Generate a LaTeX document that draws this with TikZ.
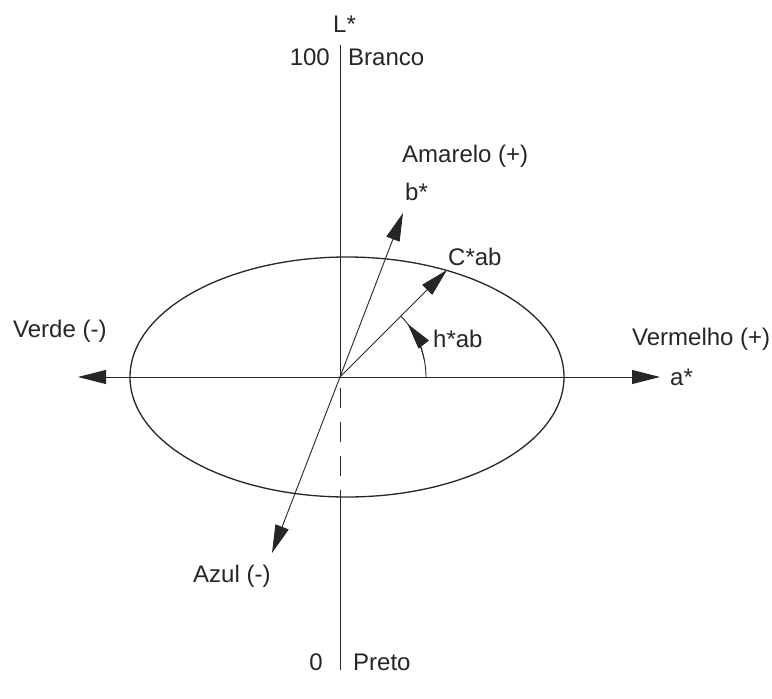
\documentclass[tikz,border=0pt]{standalone}
\usepackage{fontspec}
\setmainfont{Liberation Sans}
\usetikzlibrary{arrows.meta}
\tikzset{
  axisline/.style={line width=0.9pt, black!85},
  tri/.style={-{Triangle[length=28pt,width=14pt]}},
  lbl/.style={anchor=base west, inner sep=0pt, font=\fontsize{24}{28}\selectfont, text=black!85},
  lblr/.style={anchor=base east, inner sep=0pt, font=\fontsize{24}{28}\selectfont, text=black!85},
}
\begin{document}
\begin{tikzpicture}[x=1pt,y=-1pt]
\useasboundingbox (0,0) rectangle (772,699);
\fill[white] (0,0) rectangle (772,699);
% coordinates
\coordinate (O) at (340,377);
\coordinate (Ltop) at (340,45);
\coordinate (Lbot) at (340,670);
\coordinate (Ebot) at (340,497);
\coordinate (Dstart) at (340,388);
\coordinate (Aleft) at (78,377);
\coordinate (Aright) at (660,377);
\coordinate (Btip) at (403,213);
\coordinate (Ctip) at (447,270);
\coordinate (Ztip) at (272,553);
% ellipse
\draw[line width=1.3pt, black!85] (347,377) ellipse [x radius=217, y radius=120];
% L axis
\draw[axisline] (Ltop) -- (O);
\draw[axisline, dash pattern=on 20pt off 14pt] (Dstart) -- (Ebot);
\draw[axisline] (Ebot) -- (Lbot);
% a axis
\draw[axisline, tri] (O) -- (Aleft);
\draw[axisline, tri] (O) -- (Aright);
% b axis
\draw[axisline, tri] (O) -- (Btip);
\draw[axisline, tri] (O) -- (Ztip);
% chroma
\draw[axisline, tri] (O) -- (Ctip);
% hue arc
\draw[axisline] (O) ++(0:86pt) arc[start angle=0, end angle=45, radius=86pt];
\draw[axisline, -{Triangle[length=26pt,width=13pt]}] (O) ++(12:86pt) arc[start angle=12, end angle=38, radius=86pt];
% labels
\node[lbl] (tL) at (333,32) {L*};
\node[lblr] (t100) at (330,65) {100};
\node[lbl] (tBranco) at (348,65) {Branco};
\node[lbl] (tAmarelo) at (402,162) {Amarelo (+)};
\node[lbl] (tb) at (405,200) {b*};
\node[lbl] (tC) at (448,265) {C*ab};
\node[lbl] (th) at (433,347) {h*ab};
\node[lbl] (tVerde) at (13,337) {Verde (-)};
\node[lbl] (tVermelho) at (632,345) {Vermelho (+)};
\node[lbl] (ta) at (670,385) {a*};
\node[lbl] (tAzul) at (193,582) {Azul (-)};
\node[lblr] (t0) at (323,670) {0};
\node[lbl] (tPreto) at (353,670) {Preto};
\end{tikzpicture}
\end{document}
